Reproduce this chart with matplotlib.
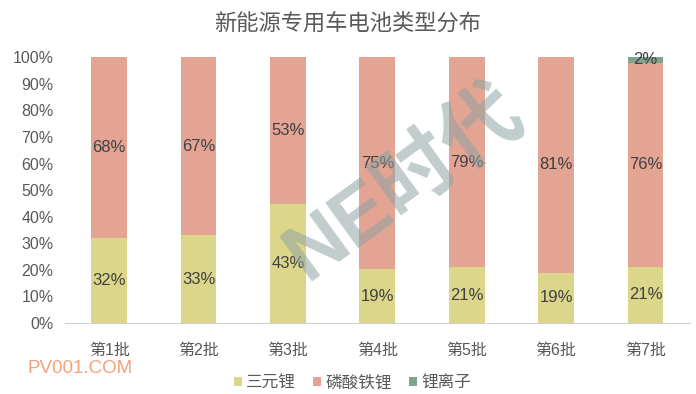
import numpy as np
import matplotlib
matplotlib.use("Agg")
import matplotlib.pyplot as plt
from matplotlib.ticker import PercentFormatter

plt.rcParams['font.family'] = ['Liberation Sans', 'Noto Sans CJK SC', 'DejaVu Sans']

categories = ['第1批', '第2批', '第3批', '第4批', '第5批', '第6批', '第7批']
series_names = ['三元锂', '磷酸铁锂', '锂离子']
ternary = [32, 33, 43, 19, 21, 19, 21]
lfp = [68, 67, 53, 75, 79, 81, 76]
li_ion = [0, 0, 0, 0, 0, 0, 2]
colors = ['#DCD68A', '#E3A493', '#7FA390']

data = np.array([ternary, lfp, li_ion], dtype=float)
shares = data / data.sum(axis=0) * 100

fig = plt.figure(figsize=(6.96, 3.94), dpi=100)
ax = fig.add_axes([0.0927, 0.180, 0.899, 0.675])

x = np.arange(len(categories))
bottom = np.zeros(len(categories))
for vals, share, name, c in zip(data, shares, series_names, colors):
    ax.bar(x, share, 0.4, bottom=bottom, color=c, label=name)
    for xi, v, s, b in zip(x, vals, share, bottom):
        if v > 0:
            ax.text(xi, b + s / 2, f'{v:.0f}%', ha='center', va='center',
                    fontsize=12, color='#404040')
    bottom += share

ax.set_xlim(-0.5, len(categories) - 0.5)
ax.set_ylim(0, 100)
ax.set_yticks(np.arange(0, 101, 10))
ax.yaxis.set_major_formatter(PercentFormatter(decimals=0))
ax.set_xticks(x)
ax.set_xticklabels(categories)
ax.tick_params(axis='both', length=0, labelsize=11.5, colors='#595959')
ax.tick_params(axis='x', pad=14)
ax.tick_params(axis='y', pad=8)
for s in ['top', 'right', 'left']:
    ax.spines[s].set_visible(False)
ax.spines['bottom'].set_color('#D0D0D0')

fig.suptitle('新能源专用车电池类型分布', y=0.965, fontsize=16, color='#595959',
             fontweight='light')

ax.legend(loc='upper center', bbox_to_anchor=(0.46, -0.14), ncol=3, frameon=False,
          fontsize=12, handlelength=0.5, handleheight=0.5, handletextpad=0.25,
          columnspacing=1.0, labelcolor='#595959')

# watermarks
fig.text(0.582, 0.53, 'NE时代', fontsize=58, fontweight='bold', color='#8FA3A3',
         alpha=0.55, rotation=36, ha='center', va='center')
fig.text(0.040, 0.064, 'PV001.COM', fontsize=13.5, color='#F2A27A', ha='left', va='center')

fig.savefig('out.png', dpi=100)
